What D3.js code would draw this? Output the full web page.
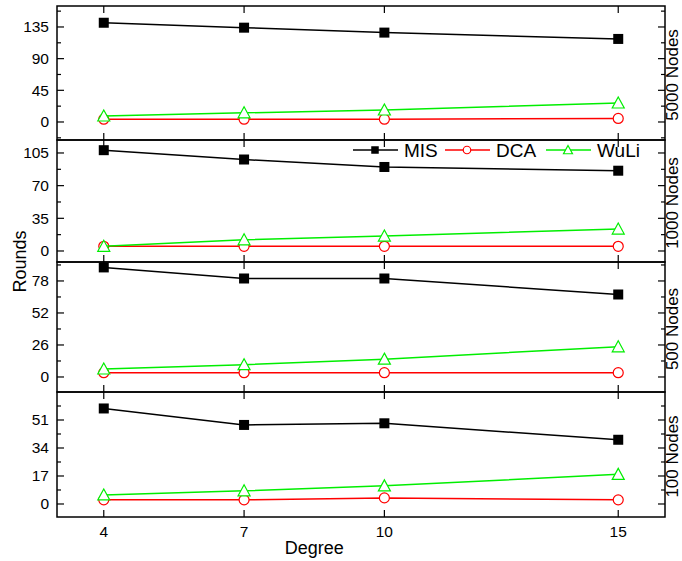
<!DOCTYPE html>
<html>
<head>
<meta charset="utf-8">
<script src="https://cdn.jsdelivr.net/npm/d3@7"></script>
<style>
  body { margin: 0; background: #fff; }
  text { font-family: "Liberation Sans", Arial, sans-serif; }
</style>
</head>
<body>
<script>
const width = 682, height = 561;

// x categories (degree) and panel labels
const degrees = [4, 7, 10, 15];
const panelLabels = ["5000 Nodes", "1000 Nodes", "500 Nodes", "100 Nodes"];

// rounds per panel (top to bottom)
const misData  = [[141, 134, 127, 118], [108, 98, 90, 86], [89, 80, 80, 67], [58, 48, 49, 39]];
const dcaData  = [[4, 4, 4, 5], [5, 5, 5, 5], [3.5, 3.5, 3.5, 3.5], [2.5, 2.5, 3.7, 2.5]];
const wuliData = [[8.5, 13, 17, 27], [5, 12, 16, 23.5], [6.5, 10, 14.5, 24.5], [5.5, 8, 11, 18]];

const yTicks   = [[0, 45, 90, 135], [0, 35, 70, 105], [0, 26, 52, 78], [0, 17, 34, 51]];
const yDomains = [[-25.6, 164.8], [-11.8, 118.9], [-12.2, 93.4], [-7.9, 68]];

const seriesNames = ["MIS", "DCA", "WuLi"];
const seriesColors = ["#000000", "#ff0000", "#00ee00"];

const left = 57, right = 665;
const panelTops = [6, 140, 262, 392, 517];

const svg = d3.select("body")
    .append("svg")
    .attr("width", width)
    .attr("height", height);

const x = d3.scaleLinear().domain([3, 16]).range([left, right]);

function drawMarker(g, type, cx, cy, color, k = 1) {
    if (type === 0) {
        g.append("rect")
            .attr("x", cx - 5 * k).attr("y", cy - 5 * k)
            .attr("width", 10 * k).attr("height", 10 * k)
            .attr("fill", color);
    } else if (type === 1) {
        g.append("circle")
            .attr("cx", cx).attr("cy", cy).attr("r", 5 * k)
            .attr("fill", "#fff").attr("stroke", color).attr("stroke-width", 1.2);
    } else {
        g.append("path")
            .attr("d", `M${cx},${cy - 6 * k}L${cx + 6 * k},${cy + 5 * k}L${cx - 6 * k},${cy + 5 * k}Z`)
            .attr("fill", "#fff").attr("stroke", color).attr("stroke-width", 1.2);
    }
}

panelLabels.forEach((label, p) => {
    const top = panelTops[p], bottom = panelTops[p + 1];
    const y = d3.scaleLinear().domain(yDomains[p]).range([bottom, top]);
    const g = svg.append("g");

    // minor + major y ticks, both sides, inward
    const step = yTicks[p][1] - yTicks[p][0];
    const minor = d3.range(-step * 2, yDomains[p][1], step / 2)
        .filter(v => v > yDomains[p][0] && v < yDomains[p][1]);
    minor.forEach(v => {
        const isMajor = Math.abs(v / step - Math.round(v / step)) < 1e-6;
        const len = isMajor ? 7 : 4;
        g.append("line").attr("x1", left).attr("x2", left + len)
            .attr("y1", y(v)).attr("y2", y(v)).attr("stroke", "#000").attr("stroke-width", 1.2);
        g.append("line").attr("x1", right).attr("x2", right - len)
            .attr("y1", y(v)).attr("y2", y(v)).attr("stroke", "#000").attr("stroke-width", 1.2);
    });

    yTicks[p].forEach(v => {
        g.append("text")
            .attr("x", left - 8).attr("y", y(v))
            .attr("dy", "0.35em")
            .attr("text-anchor", "end")
            .attr("font-size", 15.5)
            .text(v);
    });

    // x ticks on top and bottom, inward
    degrees.forEach(d => {
        g.append("line").attr("x1", x(d)).attr("x2", x(d))
            .attr("y1", top).attr("y2", top + 7).attr("stroke", "#000").attr("stroke-width", 1.2);
        g.append("line").attr("x1", x(d)).attr("x2", x(d))
            .attr("y1", bottom).attr("y2", bottom - 7).attr("stroke", "#000").attr("stroke-width", 1.2);
    });

    // frame
    g.append("rect")
        .attr("x", left).attr("y", top)
        .attr("width", right - left).attr("height", bottom - top)
        .attr("fill", "none").attr("stroke", "#000").attr("stroke-width", 1.5);

    // series
    const allData = [misData[p], dcaData[p], wuliData[p]];
    const line = d3.line().x((d, i) => x(degrees[i])).y(d => y(d));
    allData.forEach((vals, s) => {
        svg.append("path")
            .attr("d", line(vals))
            .attr("fill", "none")
            .attr("stroke", seriesColors[s])
            .attr("stroke-width", 1.5);
        vals.forEach((v, i) => drawMarker(svg, s, x(degrees[i]), y(v), seriesColors[s]));
    });

    // right label (rotated, reads bottom to top; baseline near the right edge)
    const cy = (top + bottom) / 2 + 2;
    svg.append("text")
        .attr("transform", `translate(678,${cy}) rotate(-90)`)
        .attr("text-anchor", "middle")
        .attr("font-size", 17)
        .text(label);
});

// x tick labels
degrees.forEach(d => {
    svg.append("text")
        .attr("x", x(d)).attr("y", 537)
        .attr("text-anchor", "middle")
        .attr("font-size", 15.5)
        .text(d);
});

// axis titles
svg.append("text")
    .attr("x", x(8.5)).attr("y", 554)
    .attr("text-anchor", "middle")
    .attr("font-size", 18)
    .text("Degree");

svg.append("text")
    .attr("transform", `translate(20,${(panelTops[0] + panelTops[4]) / 2}) rotate(-90)`)
    .attr("text-anchor", "middle")
    .attr("dy", "0.35em")
    .attr("font-size", 18)
    .text("Rounds");

// legend in second panel
const legend = svg.append("g");
const legendX = [353, 445, 546];
const legendY = 150;
seriesNames.forEach((name, s) => {
    const lx = legendX[s];
    legend.append("line")
        .attr("x1", lx).attr("x2", lx + 45)
        .attr("y1", legendY).attr("y2", legendY)
        .attr("stroke", seriesColors[s]).attr("stroke-width", 1.5);
    drawMarker(legend, s, lx + 22, legendY, seriesColors[s], 0.75);
    legend.append("text")
        .attr("x", lx + 51).attr("y", legendY)
        .attr("dy", "0.35em")
        .attr("font-size", 19)
        .text(name);
});
</script>
</body>
</html>
